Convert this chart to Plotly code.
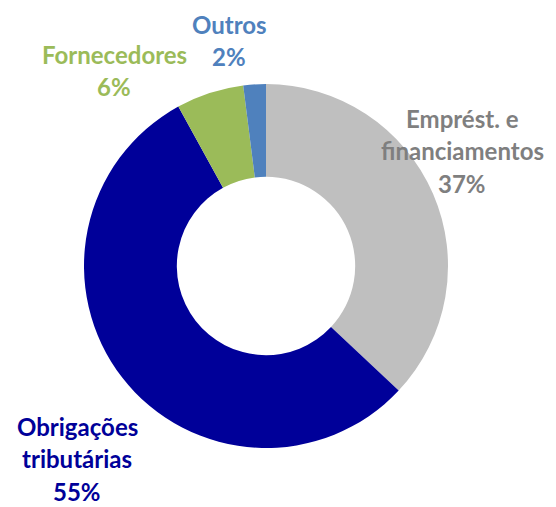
import plotly.graph_objects as go

labels = ["Emprést. e<br>financiamentos", "Obrigações<br>tributárias", "Fornecedores", "Outros"]
values = [37, 55, 6, 2]
slice_colors = ["#BFBFBF", "#000099", "#9BBB59", "#4F81BD"]
text_colors = ["#7F7F7F", "#000099", "#9BBB59", "#4F81BD"]

W, H = 556, 507
OFF = 8  # page body margin offset observed in the browser
# label centre positions (px in page): x, y of first line
label_pos = [(462, 118), (77, 426), (114, 54), (229, 24)]
line_gap = 32.5

fig = go.Figure(go.Pie(
    labels=labels, values=values, sort=False, direction="clockwise", rotation=0,
    hole=0.49, marker=dict(colors=slice_colors, line=dict(width=0)),
    textinfo="none", hoverinfo="label+percent", showlegend=False,
    domain=dict(x=[(84 - OFF) / W, (448 - OFF) / W], y=[1 - (448 - OFF) / H, 1 - (84 - OFF) / H]),
))

annotations = []
for lab, val, col, (px, py) in zip(labels, values, text_colors, label_pos):
    lines = lab.split("<br>") + [f"{val}%"]
    for i, ln in enumerate(lines):
        annotations.append(dict(
            x=(px - OFF) / W, y=1 - (py - OFF + i * line_gap) / H, xref="paper", yref="paper",
            text=f"<b>{ln}</b>", showarrow=False, xanchor="center", yanchor="middle",
            font=dict(family="Lato", size=24, color=col),
        ))

fig.update_layout(
    width=W, height=H, margin=dict(l=0, r=0, t=0, b=0),
    paper_bgcolor="white", plot_bgcolor="white", annotations=annotations,
)
fig.write_html("out.html")
